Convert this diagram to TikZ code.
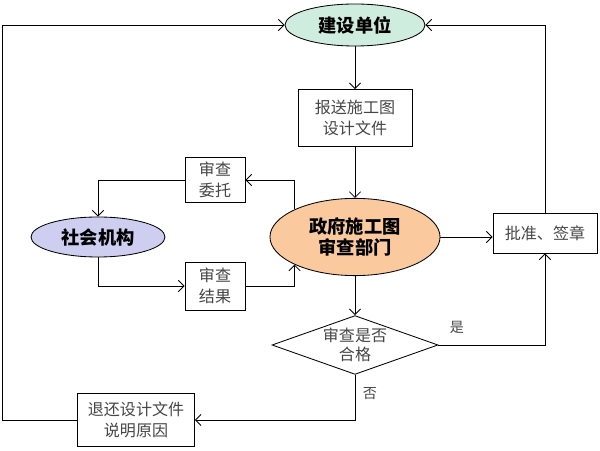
\documentclass[tikz,border=0pt]{standalone}
\usepackage{fontspec}
\newfontfamily\cjk{Noto Sans CJK SC}
\definecolor{unitgreen}{RGB}{206, 237, 222}
\definecolor{orglilac}{RGB}{206, 206, 240}
\definecolor{govorange}{RGB}{250, 201, 158}
\definecolor{txtgray}{RGB}{70, 70, 70}
\usetikzlibrary{shapes.geometric, arrows.meta, positioning}

\begin{document}
\begin{tikzpicture}[x=0.025cm, y=-0.025cm,
    line width=0.6pt,
    arr/.style={-{Straight Barb[length=4pt, width=8pt]}},
    boxnode/.style={draw, fill=white, align=center, inner sep=2pt, text=txtgray, font=\cjk\fontsize{11.4}{15}\selectfont},
    ovalnode/.style={draw, ellipse, align=center, inner sep=0pt, font=\cjk\bfseries\fontsize{13}{15.5}\selectfont},
    smalllabel/.style={text=txtgray, font=\cjk\fontsize{10}{12}\selectfont}]
  \useasboundingbox (0,0) rectangle (600,451);

  % Top unit
  \node[ovalnode, fill=unitgreen, minimum width=3.5cm, minimum height=1.05cm] (unit) at (355, 25) {建设单位};

  % Submitted drawings
  \node[boxnode, minimum width=2.85cm, minimum height=1.42cm] (submit) at (355, 118) {报送施工图\\设计文件};

  % Government review office
  \node[ovalnode, fill=govorange, minimum width=4.25cm, minimum height=1.93cm] (gov) at (355, 237) {政府施工图\\审查部门};

  % Social agency and its two boxes
  \node[boxnode, minimum width=1.5cm, minimum height=1.12cm] (entrust) at (215, 180) {审查\\委托};
  \node[boxnode, minimum width=1.5cm, minimum height=1.2cm] (result) at (215, 286) {审查\\结果};
  \node[ovalnode, fill=orglilac, minimum width=3.35cm, minimum height=1.0cm] (agency) at (98, 237) {社会机构};

  % Approval
  \node[boxnode, minimum width=2.6cm, minimum height=1.0cm] (approve) at (545, 233) {批准、签章};

  % Decision
  \node[draw, diamond, aspect=2.8, inner sep=0pt, minimum width=4.15cm, minimum height=1.47cm, align=center, text=txtgray, font=\cjk\fontsize{11.4}{14}\selectfont] (check) at (355, 345) {审查是否\\合格};

  % Returned documents
  \node[boxnode, minimum width=2.92cm, minimum height=1.32cm] (back) at (136, 420) {退还设计文件\\说明原因};
  \coordinate (leftedge) at (2, 420);

  % Connectors
  \draw[arr] (unit) -- (submit);
  \draw[arr] (submit) -- (gov);
  \draw[arr] (gov.north west) |- (entrust.east);
  \draw[arr] (entrust.west) -| (agency.north);
  \draw[arr] (agency.south) |- (result.west);
  \draw[arr] (result.east) -| (gov.south west);
  \draw[arr] (gov.east) -- (gov.east -| approve.west);
  \draw[arr] (gov.south) -- (check.north);
  \draw[arr] (check.east) -| (approve.south);
  \draw[arr] (check.south) |- (back.east);
  \draw[arr] (approve.north) |- (unit.east);
  \draw[arr] (back.west) -- (leftedge) |- (unit.west);

  % Labels
  \node[smalllabel] (yes) at (457, 327) {是};
  \node[smalllabel] (no) at (370, 394) {否};
\end{tikzpicture}
\end{document}
